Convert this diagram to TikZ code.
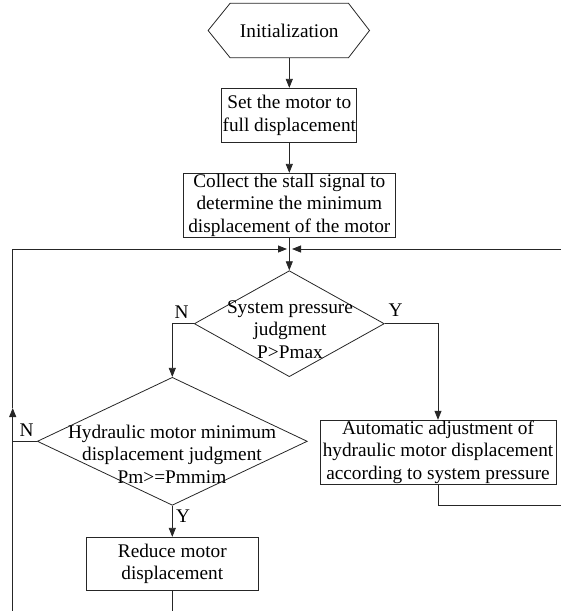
\documentclass[tikz,border=0pt]{standalone}
\usepackage{fontspec}
\setmainfont{Liberation Serif}
\usetikzlibrary{arrows.meta,shapes.geometric,calc}
\begin{document}
\begin{tikzpicture}[x=1pt,y=-1pt,
  every node/.style={font=\fontsize{19.3}{22.5}\selectfont},
  line/.style={draw=black!85, line width=0.8pt},
  arr/.style={line, -{Triangle[length=9pt,width=7pt]}},
  box/.style={draw=black!85, line width=0.8pt, rectangle, inner sep=0pt, align=center},
  dia/.style={draw=black!85, line width=0.8pt, diamond, inner sep=0pt},
  txt/.style={inner sep=0pt, align=center},
  lab/.style={inner sep=0pt}]
\useasboundingbox (0,0) rectangle (561,611);

% nodes
\node[txt, minimum width=118pt, minimum height=54pt] (init) at (289.3,30.5) {Initialization};
\draw[line] (init.north west) -- (init.north east) -- ($(init.east)+(21,0)$)
  -- (init.south east) -- (init.south west) -- ($(init.west)+(-22,0)$) -- cycle;

\node[box, minimum width=135pt, minimum height=54.4pt] (set) at (289.3,115.5)
  {Set the motor to\\full displacement};
\node[box, minimum width=212.4pt, minimum height=64pt] (col) at (289.3,205.3)
  {Collect the stall signal to\\determine the minimum\\displacement of the motor};

\node[dia, minimum width=190pt, minimum height=106pt] (sys) at (289.3,323.7) {};
\node[txt] (sysT) at (290,329.5) {System pressure\\judgment\\P>Pmax};

\node[dia, minimum width=270pt, minimum height=128pt] (hyd) at (172.3,441.3) {};
\node[txt] (hydT) at (172,454) {Hydraulic motor minimum\\displacement judgment\\Pm>=Pmmim};

\node[box, minimum width=236pt, minimum height=64pt] (auto) at (438,452.2)
  {Automatic adjustment of\\hydraulic motor displacement\\according to system pressure};
\node[box, minimum width=172.7pt, minimum height=53.4pt] (red) at (172.3,564)
  {Reduce motor\\displacement};

% labels
\node[lab] (nl1) at (181.7,312.3) {N};
\node[lab] (yl1) at (395.7,310) {Y};
\node[lab] (nl2) at (26.7,429.7) {N};
\node[lab] (yl2) at (183,516) {Y};

% coordinates
\coordinate (J) at (289.3,249);
\coordinate (jl) at (287,249);
\coordinate (jr) at (292,249);
\coordinate (lbot) at (12.7,611);
\coordinate (lup) at (12.7,408);
\coordinate (rtop) at (561,249);
\coordinate (rbot) at (561,505);
\coordinate (redbot) at (172.3,611);

% connectors
\draw[arr] (init.south) -- (set.north);
\draw[arr] (set.south) -- (col.north);
\draw[line] (col.south) -- (J);
\draw[arr] (J) -- (sys.north);
\draw[arr] (lbot) -- (lup);
\draw[arr] (lup) |- (jl);
\draw[arr] (rtop) -- (jr);
\draw[line] (hyd.west) -- (hyd.west -| lbot);
\draw[arr] (sys.west) -| (hyd.north);
\draw[arr] (sys.east) -| (auto.north);
\draw[arr] (hyd.south) -- (red.north);
\draw[line] (red.south) -- (redbot);
\draw[line] (auto.south) |- (rbot);
\end{tikzpicture}
\end{document}
